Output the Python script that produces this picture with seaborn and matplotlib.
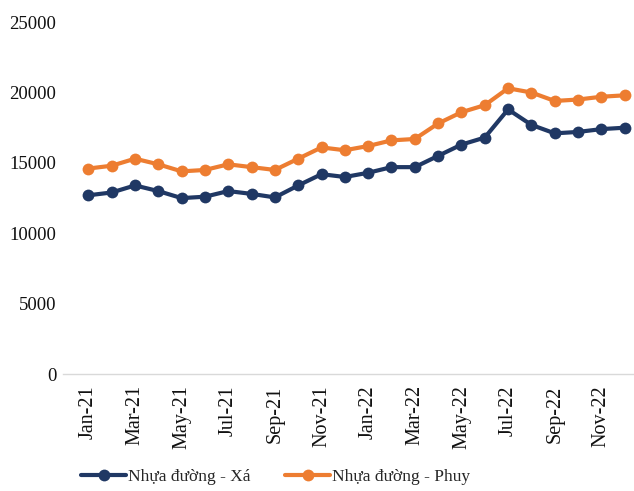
import matplotlib
matplotlib.use("Agg")
import matplotlib.pyplot as plt
import seaborn as sns
import pandas as pd

months = ["Jan-21", "Feb-21", "Mar-21", "Apr-21", "May-21", "Jun-21", "Jul-21", "Aug-21",
          "Sep-21", "Oct-21", "Nov-21", "Dec-21", "Jan-22", "Feb-22", "Mar-22", "Apr-22",
          "May-22", "Jun-22", "Jul-22", "Aug-22", "Sep-22", "Oct-22", "Nov-22", "Dec-22"]
xa = [12700, 12900, 13400, 13000, 12500, 12600, 13000, 12800, 12550, 13400, 14200, 14000,
      14300, 14700, 14700, 15500, 16300, 16800, 18800, 17700, 17100, 17200, 17400, 17500]
phuy = [14600, 14800, 15300, 14900, 14400, 14500, 14900, 14700, 14500, 15300, 16100, 15900,
        16200, 16600, 16700, 17800, 18600, 19100, 20300, 20000, 19400, 19500, 19700, 19800]
series_names = ["Nhựa đường - Xá", "Nhựa đường - Phuy"]

df = pd.DataFrame({"idx": list(range(len(months))) * 2,
                   "value": xa + phuy,
                   "series": [series_names[0]] * len(xa) + [series_names[1]] * len(phuy)})

sns.set_style("white")
plt.rcParams['font.family'] = ['Liberation Serif', 'DejaVu Serif']

fig = plt.figure(figsize=(6.34, 4.91), dpi=100)
ax = fig.add_axes([0.1, 0.238, 0.9, 0.717])
palette = {series_names[0]: "#203864", series_names[1]: "#ED7D31"}
sns.lineplot(data=df, x="idx", y="value", hue="series", palette=palette, marker="o",
             markersize=8.5, linewidth=3, markeredgewidth=0, ax=ax)

ax.set_ylim(0, 25000)
ax.set_xlim(-1.07, 23.4)
ax.set_yticks(range(0, 25001, 5000))
ax.set_xticks(range(0, 24, 2))
ax.set_xticklabels(months[::2], rotation=90)
ax.tick_params(axis="x", labelsize=14.5, length=0, colors="#111111", pad=8)
ax.tick_params(axis="y", labelsize=13.5, length=0, colors="#111111", pad=5)
ax.set_xlabel("")
ax.set_ylabel("")
for s in ["top", "right", "left"]:
    ax.spines[s].set_visible(False)
ax.spines["bottom"].set_color("#d9d9d9")
ax.spines["bottom"].set_linewidth(1)

handles, labels = ax.get_legend_handles_labels()
ax.get_legend().remove()
fig.legend(handles, labels, loc="center", bbox_to_anchor=(0.435, 0.028), ncol=2, frameon=False,
           fontsize=12.5, handlelength=2.6, columnspacing=2.0, handletextpad=0.1)

fig.savefig("out.png", dpi=100)
